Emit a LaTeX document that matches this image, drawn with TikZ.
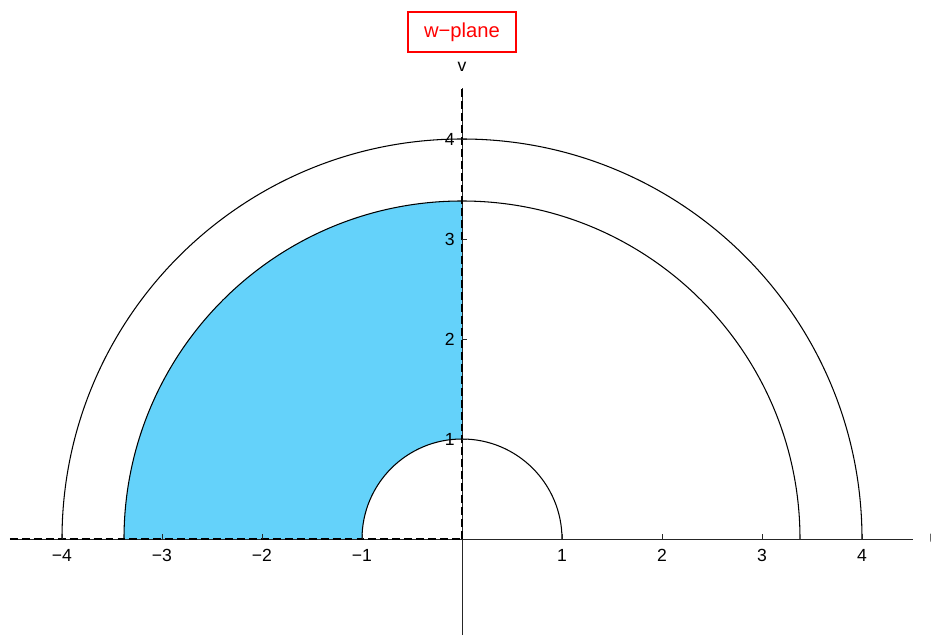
\documentclass[tikz,border=0pt]{standalone}
\usepackage{fontspec}
\setmainfont{Liberation Sans}
\definecolor{regionblue}{RGB}{100,210,250}
\tikzset{
  curve/.style={black, line width=0.6pt},
  axisline/.style={black!85, line width=0.45pt},
  axisdash/.style={black, line width=0.8pt, dash pattern=on 4.5pt off 2.3pt},
  ticklabel/.style={font=\fontsize{10}{12}\selectfont, inner sep=0pt},
  titlebox/.style={draw=red, text=red, line width=0.9pt, minimum width=2.16cm,
    minimum height=0.8cm, inner sep=0pt, font=\fontsize{11.5}{13}\selectfont}
}
\begin{document}
\begin{tikzpicture}[scale=2]
    \useasboundingbox (-4.62,-0.96) rectangle (4.69,5.39);

      % shaded part of the annulus
      \fill[regionblue] (-1,0) arc (180:90:1) -- (0,3.38) arc (90:180:3.38) -- cycle;

      % half circles r=1, r=3.38, r=4
      \draw[curve] (1,0) arc (0:180:1);
      \draw[curve] (3.38,0) arc (0:180:3.38);
      \draw[curve] (4,0) arc (0:180:4);

      % axes
      \coordinate (uleft) at (-4.52,0);
      \coordinate (uright) at (4.51,0);
      \coordinate (vbottom) at (0,-0.96);
      \coordinate (vtop) at (0,4.51);
      \coordinate (origin) at (0,0);
      \draw[axisline] (uleft) -- (uright);
      \draw[axisline] (vbottom) -- (vtop);
      \draw[axisdash] (uleft) -- (origin);
      \draw[axisdash] (origin) -- (vtop);
      \node[ticklabel, anchor=west] (ulabel) at (4.67,0) {u};
      \node[ticklabel] (vlabel) at (0,4.72) {v};

      % ticks on u axis
      \foreach \k/\t [count=\i] in {-4/−4,-3/−3,-2/−2,-1/−1,1/1,2/2,3/3,4/4} {
        \draw[axisline] (\k,0) -- ++(0,0.05);
        \node[ticklabel] (utick\i) at (\k,-0.16) {\t};
      }

      % ticks on v axis
      \foreach \k in {1,...,4} {
        \draw[axisline] (0,\k) -- ++(0.05,0);
        \node[ticklabel, anchor=east] (vtick\k) at (-0.07,\k) {\k};
      }

      % title
      \node[titlebox] (title) at (0,5.07) {w−plane};
    \end{tikzpicture}
\end{document}
